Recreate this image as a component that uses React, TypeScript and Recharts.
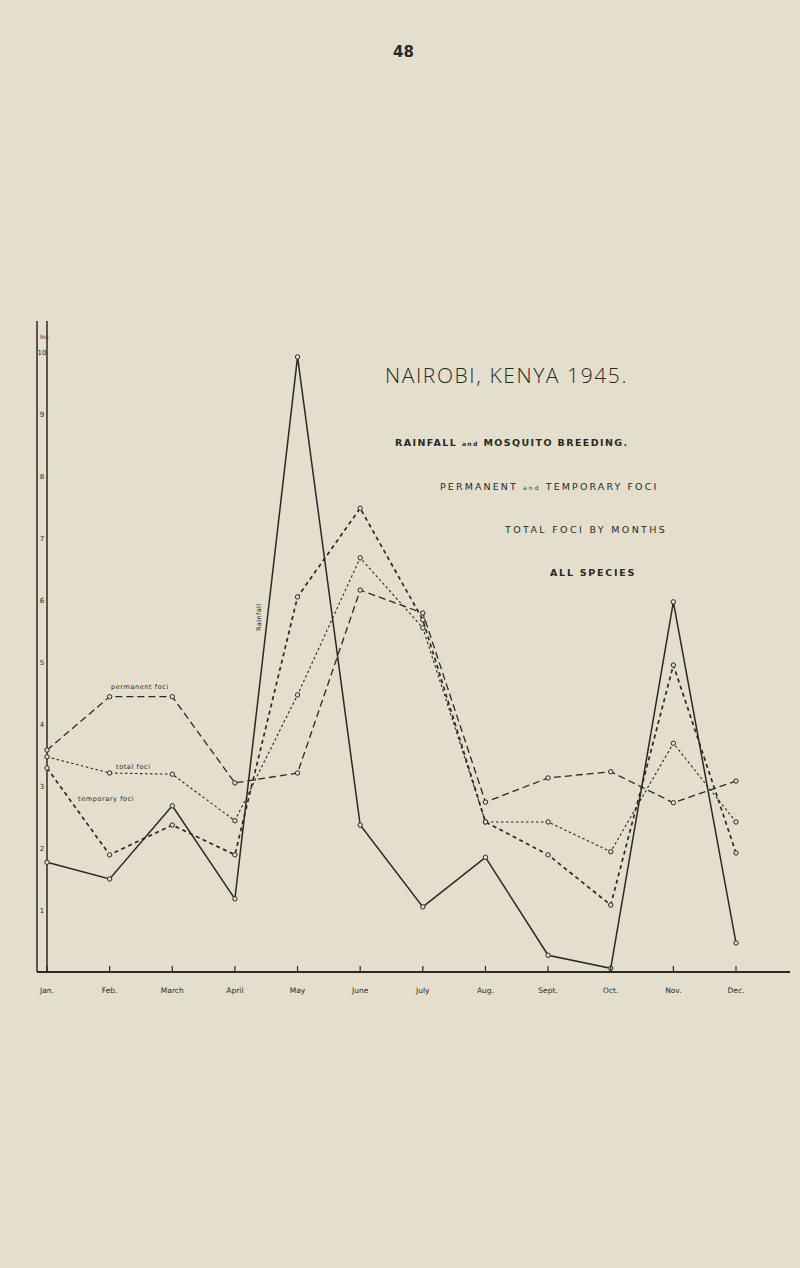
import React from 'react';
import { LineChart, Line, XAxis, YAxis, ReferenceLine } from 'recharts';

// values (inches / scaled foci counts)
const months = ['Jan.', 'Feb.', 'March', 'April', 'May', 'June', 'July', 'Aug.', 'Sept.', 'Oct.', 'Nov.', 'Dec.'];
const rainfall = [1.77, 1.5, 2.68, 1.18, 9.92, 2.37, 1.05, 1.85, 0.27, 0.06, 5.97, 0.47];
const permanentFoci = [3.58, 4.44, 4.44, 3.05, 3.21, 6.16, 5.79, 2.74, 3.13, 3.23, 2.73, 3.08];
const totalFoci = [3.47, 3.21, 3.19, 2.44, 4.47, 6.68, 5.55, 2.42, 2.42, 1.94, 3.69, 2.42];
const temporaryFoci = [3.29, 1.89, 2.37, 1.89, 6.05, 7.48, 5.68, 2.42, 1.89, 1.08, 4.95, 1.92];
const yTicks = [1, 2, 3, 4, 5, 6, 7, 8, 9, 10];

const PAPER = '#e3dfcc';
const INK = '#2a2925';

const data = months.map((m, i) => ({
  month: m,
  rainfall: rainfall[i],
  permanent: permanentFoci[i],
  total: totalFoci[i],
  temporary: temporaryFoci[i],
}));

const dotStyle = { r: 2.2, fill: PAPER, stroke: INK, strokeWidth: 1, strokeDasharray: 'none' };

const MonthTick = (props: any) => {
  const { x, y, payload } = props;
  return (
    <g>
      <line x1={x} x2={x} y1={y - 6} y2={y} stroke={INK} strokeWidth={1.2} />
      <text x={x} y={y + 21} textAnchor="middle" fontSize={7.5} fill={INK} fontFamily="DejaVu Sans">
        {payload.value}
      </text>
    </g>
  );
};

const InchTick = (props: any) => {
  const { x, y, payload } = props;
  return (
    <text x={x + 5} y={y + 3} textAnchor="middle" fontSize={7} fill={INK} fontFamily="DejaVu Sans">
      {payload.value}
    </text>
  );
};

const txt = (extra: React.CSSProperties): React.CSSProperties => ({
  position: 'absolute',
  whiteSpace: 'nowrap',
  color: INK,
  lineHeight: 1,
  fontFamily: '"DejaVu Sans", sans-serif',
  ...extra,
});

export default function App() {
  return (
    <div style={{ position: 'absolute', left: 0, top: 0, width: 800, height: 1268, background: PAPER, overflow: 'hidden' }}>
      <div style={txt({ left: 393, top: 45, fontSize: 15, fontWeight: 700 })}>48</div>

      <LineChart width={800} height={1268} data={data} margin={{ top: 321, right: 10, bottom: 266, left: 37 }}>
        <XAxis
          dataKey="month"
          height={30}
          padding={{ left: 10, right: 54 }}
          axisLine={{ stroke: INK, strokeWidth: 2.2 }}
          tickLine={false}
          tickSize={0}
          tickMargin={0}
          interval={0}
          tick={<MonthTick />}
        />
        <YAxis
          type="number"
          domain={[0, 10.5]}
          ticks={yTicks}
          mirror
          axisLine={{ stroke: INK, strokeWidth: 1.5 }}
          tickLine={false}
          tickSize={0}
          tickMargin={0}
          tick={<InchTick />}
        />
        <ReferenceLine x="Jan." stroke={INK} strokeWidth={1.5} />
        <Line type="linear" dataKey="rainfall" stroke={INK} strokeWidth={1.5} dot={dotStyle} isAnimationActive={false} />
        <Line type="linear" dataKey="permanent" stroke={INK} strokeWidth={1.3} strokeDasharray="7 4" dot={dotStyle} isAnimationActive={false} />
        <Line type="linear" dataKey="total" stroke={INK} strokeWidth={1.1} strokeDasharray="2.5 2.5" dot={dotStyle} isAnimationActive={false} />
        <Line type="linear" dataKey="temporary" stroke={INK} strokeWidth={1.7} strokeDasharray="4 3.5" dot={dotStyle} isAnimationActive={false} />
      </LineChart>

      <div style={txt({ left: 40, top: 334, fontSize: 6 })}>Ins</div>

      <div style={txt({ left: 385, top: 365, fontSize: 21, fontFamily: '"Open Sans", sans-serif', fontWeight: 300, letterSpacing: 1.6 })}>
        NAIROBI, KENYA 1945.
      </div>
      <div style={txt({ left: 395, top: 438, fontSize: 9.5, fontWeight: 700, letterSpacing: 1.4 })}>
        RAINFALL <span style={{ fontSize: 6 }}>and</span> MOSQUITO BREEDING.
      </div>
      <div style={txt({ left: 440, top: 482, fontSize: 9.5, letterSpacing: 2.1 })}>
        PERMANENT <span style={{ fontSize: 6 }}>and</span> TEMPORARY FOCI
      </div>
      <div style={txt({ left: 505, top: 525, fontSize: 9.5, letterSpacing: 2.35 })}>TOTAL FOCI BY MONTHS</div>
      <div style={txt({ left: 550, top: 568, fontSize: 9.5, fontWeight: 700, letterSpacing: 1.75 })}>ALL SPECIES</div>

      <div style={txt({ left: 111, top: 684, fontSize: 6.5, letterSpacing: 0.6 })}>permanent foci</div>
      <div style={txt({ left: 116, top: 764, fontSize: 6.5, letterSpacing: 0.6 })}>total foci</div>
      <div style={txt({ left: 78, top: 796, fontSize: 6.5, letterSpacing: 0.6 })}>temporary foci</div>
      <div style={txt({ left: 246, top: 614, fontSize: 6.5, letterSpacing: 0.4, transform: 'rotate(-90deg)', transformOrigin: 'center' })}>
        Rainfall
      </div>
    </div>
  );
}
